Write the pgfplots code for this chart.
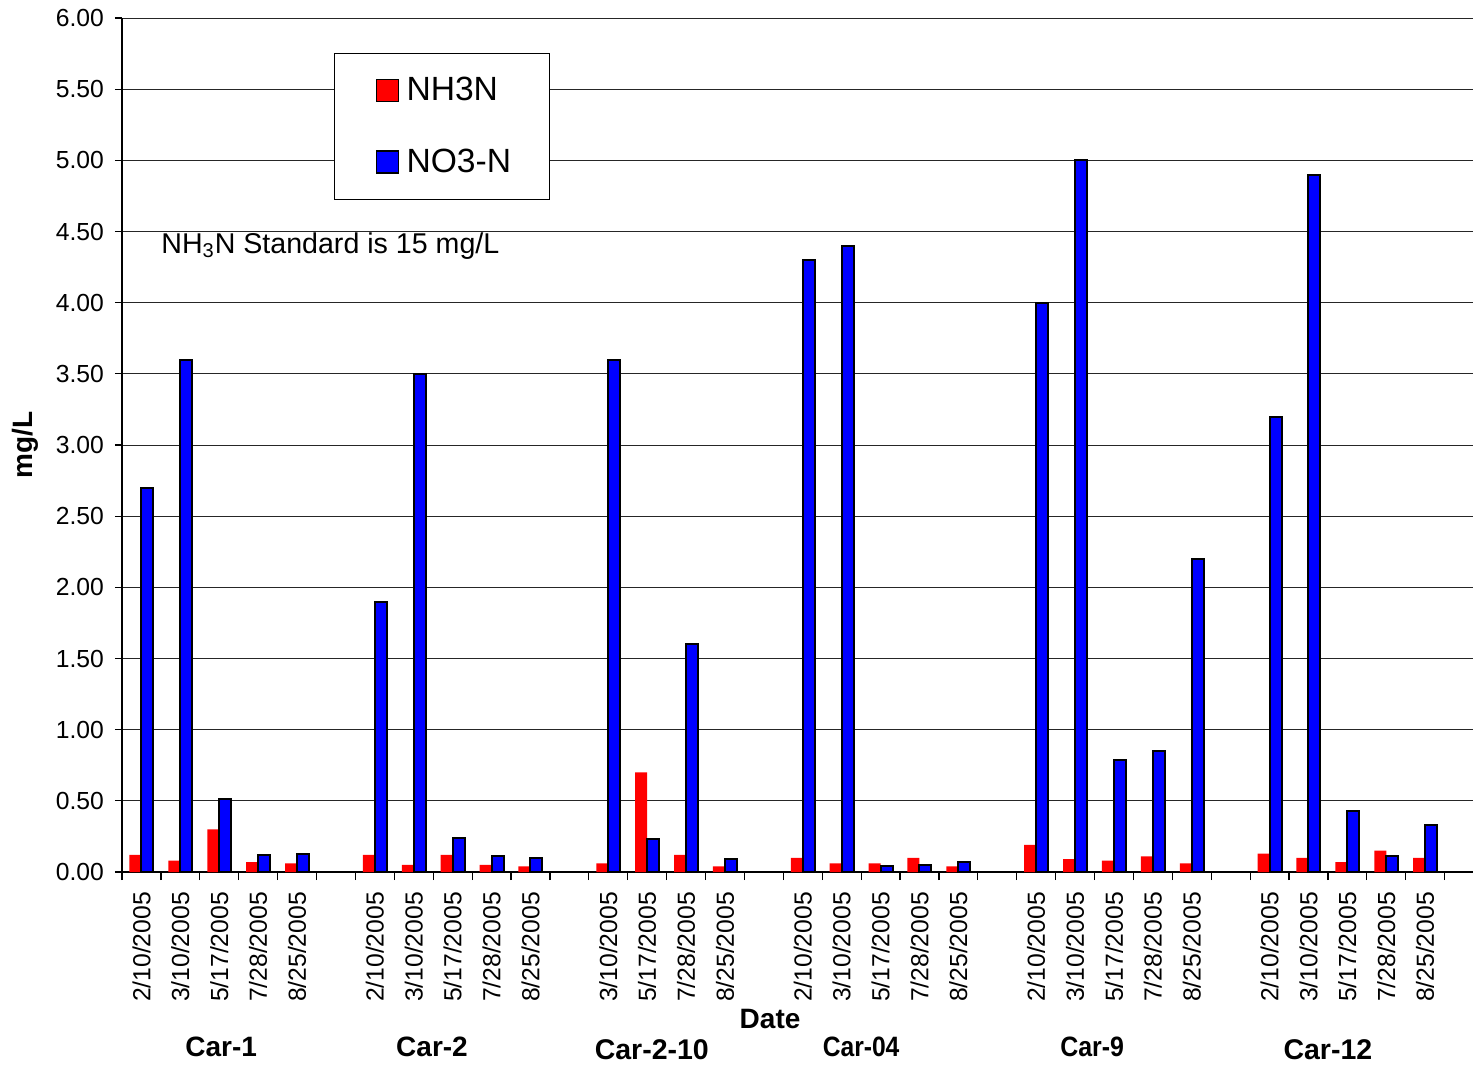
\documentclass[border=0pt]{standalone}
\usepackage{pgfplots}
\pgfplotsset{compat=1.18}
\usepackage{pgfplotstable}
\usepackage{fontspec}
\setmainfont{Liberation Sans}

% x = slot on the date axis (5, 11, 16, 22, 28 are the empty gaps between sites)
\pgfplotstableread{
x  nh    no
0  0.12  2.70
1  0.08  3.60
2  0.30  0.51
3  0.07  0.12
4  0.06  0.13
6  0.12  1.90
7  0.05  3.50
8  0.12  0.24
9  0.05  0.11
10 0.04  0.10
12 0.06  3.60
13 0.70  0.23
14 0.12  1.60
15 0.04  0.09
17 0.10  4.30
18 0.06  4.40
19 0.06  0.04
20 0.10  0.05
21 0.04  0.07
23 0.19  4.00
24 0.09  5.00
25 0.08  0.79
26 0.11  0.85
27 0.06  2.20
29 0.13  3.20
30 0.10  4.90
31 0.07  0.43
32 0.15  0.11
33 0.10  0.33
}\nitrodata

\begin{document}
\begin{tikzpicture}
\begin{axis}[
    scale only axis,
    width=675.5pt, height=427pt,
    xmin=-0.5, xmax=34.23,
    ymin=0, ymax=6,
    axis x line*=bottom,
    axis y line*=left,
    axis line style={black, line width=0.8pt},
    ybar=0pt, bar width=6pt,
    clip=false,
    tick align=outside,
    major tick length=3.5pt,
    minor tick length=4pt,
    ytick={0,0.5,1,1.5,2,2.5,3,3.5,4,4.5,5,5.5,6},
    yticklabel style={/pgf/number format/.cd, fixed, fixed zerofill, precision=2, /tikz/.cd},
    ymajorgrids,
    major grid style={black!85, line width=0.5pt},
    xtick={0,1,2,3,4,6,7,8,9,10,12,13,14,15,17,18,19,20,21,23,24,25,26,27,29,30,31,32,33},
    xticklabels={2/10/2005,3/10/2005,5/17/2005,7/28/2005,8/25/2005,
                 2/10/2005,3/10/2005,5/17/2005,7/28/2005,8/25/2005,
                 3/10/2005,5/17/2005,7/28/2005,8/25/2005,
                 2/10/2005,3/10/2005,5/17/2005,7/28/2005,8/25/2005,
                 2/10/2005,3/10/2005,5/17/2005,7/28/2005,8/25/2005,
                 2/10/2005,3/10/2005,5/17/2005,7/28/2005,8/25/2005},
    minor xtick={-0.5,0.5,...,33.5},
    major x tick style={draw=none},
    minor x tick style={black, line width=0.6pt},
    y tick style={black, line width=0.6pt},
    xticklabel style={rotate=90, anchor=east},
    xticklabel shift=3pt,
    yticklabel shift=2pt,
    tick label style={font=\fontsize{12.35}{14}\selectfont},
    /pgf/number format/assume math mode=true,
    legend style={at={(axis cs:4.95,5.755)}, anchor=north west,
        draw=black, line width=0.5pt, fill=white,
        font=\fontsize{16.8}{20}\selectfont,
        inner xsep=17pt, inner ysep=10pt, row sep=18.5pt},
    legend cell align=left,
    legend image code/.code={\draw[#1, line width=0.8pt] (0pt,-5.5pt) rectangle (11pt,5.5pt); \path (-3.5pt,0pt) (12.5pt,0pt);},
]
\addplot[fill=red, draw=none] table[x=x, y=nh]{\nitrodata};
\addlegendentry{NH3N}
\addplot[fill=blue, draw=black, line width=1pt] table[x=x, y=no]{\nitrodata};
\addlegendentry{NO3-N}

\node[anchor=west, font=\fontsize{14.3}{17}\selectfont] at (axis cs:0.33,4.40) {NH\textsubscript{3}N Standard is 15 mg/L};
\node[rotate=90, font=\bfseries\fontsize{14}{17}\selectfont] at (axis cs:-2.99,3.0) {mg/L};
\node[font=\bfseries\fontsize{14}{17}\selectfont] at (axis cs:16.16,-1.033) {Date};
\node[font=\bfseries\fontsize{14}{17}\selectfont] at (axis cs:2.05,-1.23) {Car-1};
\node[font=\bfseries\fontsize{14}{17}\selectfont] at (axis cs:7.47,-1.23) {Car-2};
\node[font=\bfseries\fontsize{14.25}{17}\selectfont] at (axis cs:13.12,-1.25) {Car-2-10};
\node[font=\bfseries\fontsize{14}{17}\selectfont] at (axis cs:18.50,-1.23) {\scalebox{0.88}[1]{Car-04}};
\node[font=\bfseries\fontsize{14}{17}\selectfont] at (axis cs:24.44,-1.23) {\scalebox{0.89}[1]{Car-9}};
\node[font=\bfseries\fontsize{14.25}{17}\selectfont] at (axis cs:30.50,-1.25) {Car-12};
\end{axis}
\pgfresetboundingbox
\useasboundingbox (-61pt,-97.5pt) rectangle (675.5pt,436pt);
\end{tikzpicture}
\end{document}
